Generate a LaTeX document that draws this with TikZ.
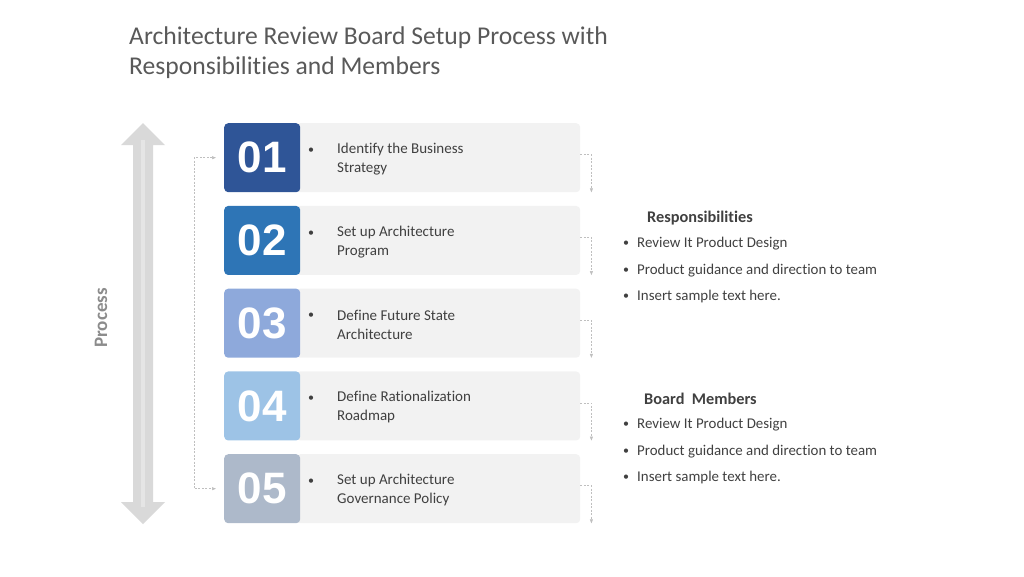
\documentclass[tikz,border=0pt]{standalone}
\usepackage{fontspec}
\setmainfont{Carlito}[Ligatures = NoCommon]
\newfontfamily\numfont{Liberation Sans}
\usetikzlibrary{positioning, arrows.meta}

\definecolor{numA}{HTML}{2F5597}
\definecolor{numB}{HTML}{2E75B6}
\definecolor{numC}{HTML}{8EA9DB}
\definecolor{numD}{HTML}{9DC3E6}
\definecolor{numE}{HTML}{ADB9CA}
\definecolor{boxgray}{HTML}{F2F2F2}
\definecolor{textgray}{HTML}{404040}
\definecolor{titlegray}{HTML}{595959}

\tikzset{
    numbox/.style = {rounded corners = 4pt, minimum width = 76pt, minimum height = 69pt, inner sep = 0pt, text = white, font = \numfont\bfseries\fontsize{44}{44}\selectfont},
    stepbox/.style = {fill = boxgray, rounded corners = 4pt, minimum width = 284pt, minimum height = 69pt, inner sep = 0pt},
    steptext/.style = {text = textgray, font = \fontsize{15}{19}\selectfont, align = left, inner sep = 0pt},
    sidetext/.style = {text = textgray, font = \fontsize{14.9}{17}\selectfont, inner sep = 0pt, anchor = west},
    sidehead/.style = {text = textgray, font = \bfseries\fontsize{16.3}{17}\selectfont, inner sep = 0pt, anchor = west},
    flowline/.style = {draw = black!25, line width = .5pt, dash pattern = on 2pt off 1.5pt, -{Triangle[length = 4pt, width = 3pt]}},
}

\begin{document}
\begin{tikzpicture}[x = 1pt, y = -1pt]

    \useasboundingbox (0, 0) rectangle (1024, 576);

    \def\rowpitch {82.75}
    \def\firstrow {123}

    % title
    \node [anchor = base west, text = titlegray, font = \fontsize{25.6}{30}\selectfont, inner sep = 0pt] (title line one) at (129, 44) {Architecture Review Board Setup Process with};
    \node [anchor = base west, text = titlegray, font = \fontsize{25.6}{30}\selectfont, inner sep = 0pt] (title line two) at (129, 74) {Responsibilities and Members};

    % process arrow
    \fill [black!15] (143, 123) -- (165, 145) -- (153, 145) -- (153, 502) -- (165, 502) -- (143, 524) -- (121, 502) -- (133, 502) -- (133, 145) -- (121, 145) -- cycle;
    \fill [black!10] (141, 140) rectangle (145, 507);
    \node [rotate = 90, text = black!45, font = \bfseries\fontsize{19}{19}\selectfont] (process label) at (101, 318) {Process};

    % steps
    \foreach \num/\col/\linea/\lineb [count = \i] in {01/numA/Identify the Business/Strategy, 02/numB/Set up Architecture/Program, 03/numC/Define Future State/Architecture, 04/numD/Define Rationalization/Roadmap, 05/numE/Set up Architecture/Governance Policy} {
        \pgfmathsetmacro{\rowtop}{\firstrow + (\i - 1) * \rowpitch}
        \node [stepbox, anchor = north west] (step\i) at (296, \rowtop) {};
        \node [numbox, fill = \col, anchor = north west] (num\i) at (224, \rowtop) {\num};
        \node [steptext, anchor = center, font = \fontsize{12}{12}\selectfont] (dot\i) at ([xshift = 15pt, yshift = 7pt]step\i.west) {\textbullet};
        \node [steptext, anchor = west] (text\i) at ([xshift = 41pt, yshift = -1.5pt]step\i.west) {\linea\\\lineb};
        \draw [flowline] ([yshift = 3pt]step\i.east) -| ([xshift = 11pt]step\i.south east);
    }

    % loop back
    \draw [flowline, {Triangle[length = 4pt, width = 3pt]}-{Triangle[length = 4pt, width = 3pt]}] ([xshift = -8pt]num1.west) -- ++(-22, 0) |- ([xshift = -8pt]num5.west);

    % responsibilities
    \node [sidehead] (resp head) at (647, 218) {Responsibilities};
    \foreach \entry [count = \j] in {Review It Product Design, Product guidance and direction to team, Insert sample text here.} {
        \node [sidetext, font = \fontsize{12}{12}\selectfont] (resp dot\j) at (623, {244 + (\j - 1) * 26.5}) {\textbullet};
        \node [sidetext] (resp\j) at (637, {244 + (\j - 1) * 26.5}) {\entry};
    }

    % board members
    \node [sidehead] (board head) at (644, 399) {Board~~Members};
    \foreach \entry [count = \j] in {Review It Product Design, Product guidance and direction to team, Insert sample text here.} {
        \node [sidetext, font = \fontsize{12}{12}\selectfont] (board dot\j) at (623, {425 + (\j - 1) * 26.5}) {\textbullet};
        \node [sidetext] (board\j) at (637, {425 + (\j - 1) * 26.5}) {\entry};
    }
\end{tikzpicture}
\end{document}
